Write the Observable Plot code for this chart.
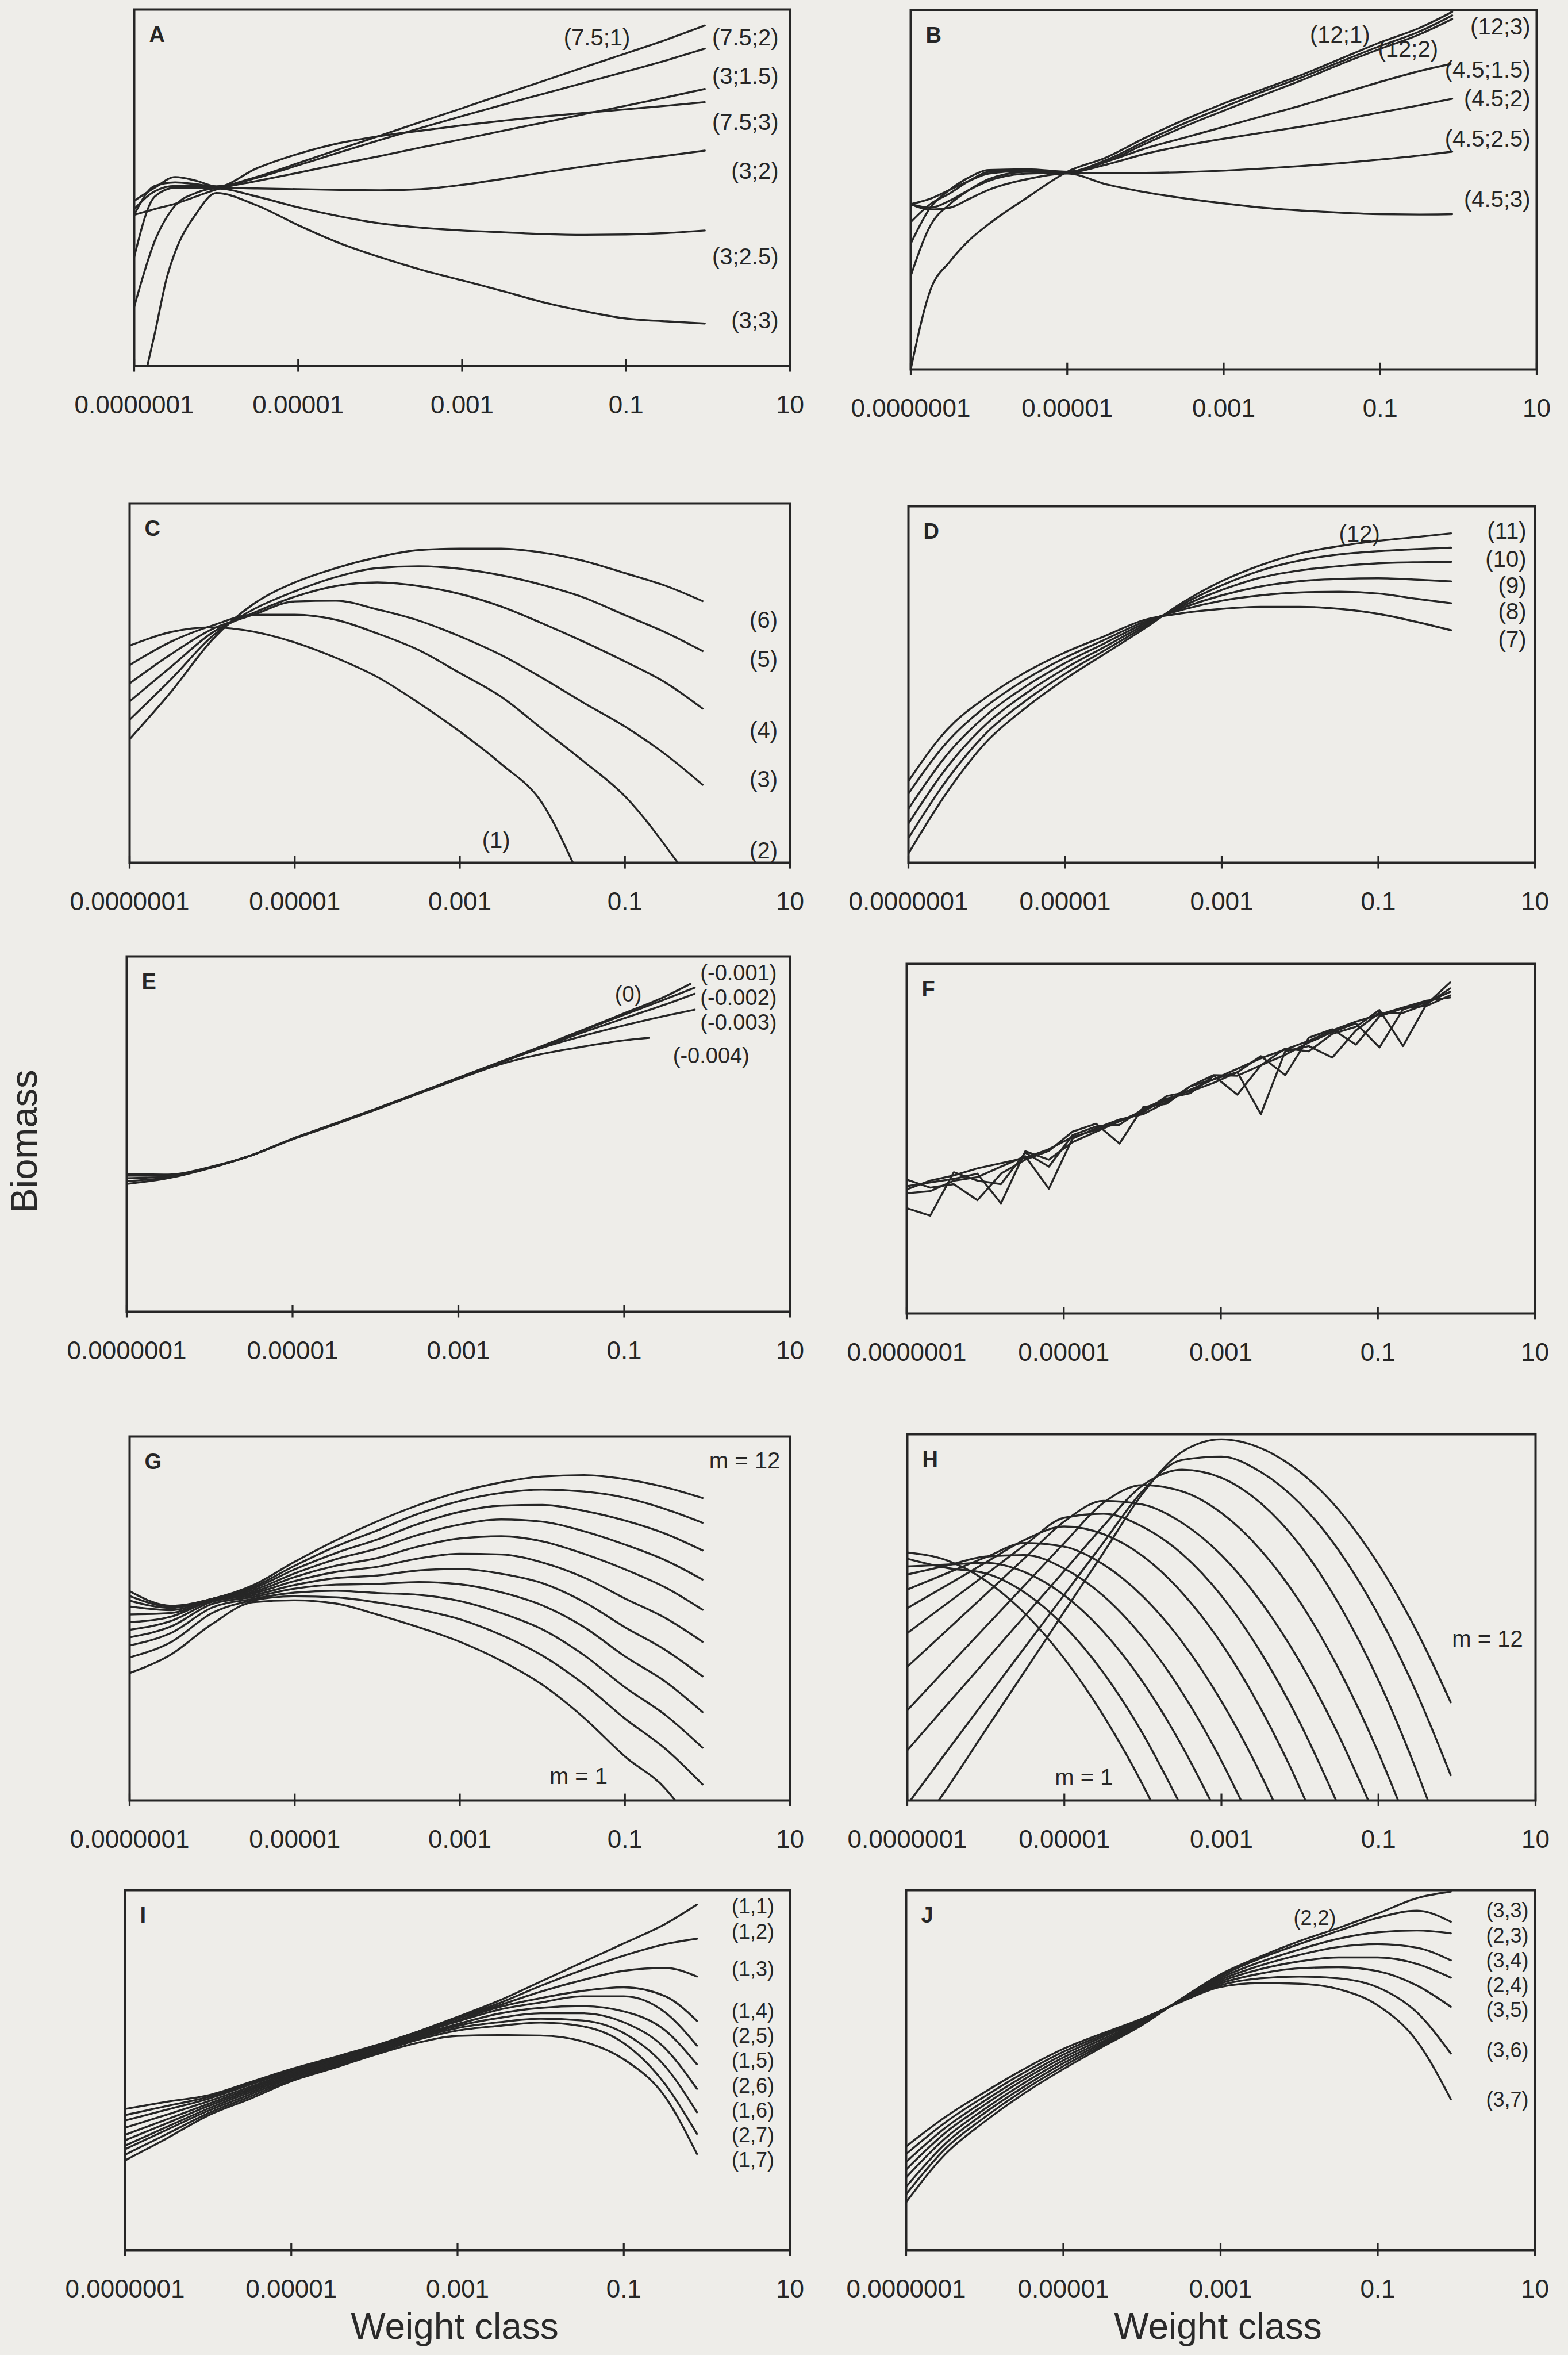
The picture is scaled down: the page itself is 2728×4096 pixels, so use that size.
<!DOCTYPE html>
<html><head><meta charset="utf-8">
<script src="https://cdn.jsdelivr.net/npm/d3@7"></script>
<script src="https://cdn.jsdelivr.net/npm/@observablehq/plot@0.6"></script>
<style>
html,body{margin:0;padding:0;background:#eeede9;}
#fig{position:relative;width:2728px;height:4096px;overflow:hidden;font-family:"Liberation Sans",Arial,Helvetica,sans-serif;color:#2a2a2a;}
.panel{position:absolute;}
.axt{position:absolute;font-size:64px;line-height:1;white-space:nowrap;}
</style></head><body><div id="fig"></div>
<script>
// ---------- axis ticks ----------
const tickValues = [1e-7, 1e-5, 1e-3, 0.1, 10];
const tickLabels = ["0.0000001", "0.00001", "0.001", "0.1", "10"];
function zip(grid, ys) { return grid.map((d, i) => [d, ys[i]]); }

// ---------- data: points are [log10(weight class), biomass (panel units 0-100)] ----------
const A_series = [
 {name:"(7.5;1)", pts:[[-7,46.3],[-6.75,50],[-6.5,53],[-6.25,52],[-6,50.4],[-5.5,53.1],[-5,56.9],[-4.5,60.8],[-4,64.6],[-3.5,68.5],[-3,72.3],[-2.5,76.2],[-2,80],[-1.5,83.9],[-1,87.7],[-0.5,91.6],[-0.04,95.5]]},
 {name:"(7.5;2)", pts:[[-7,42.4],[-6.75,50.5],[-6.5,51.5],[-6.25,51],[-6,50.3],[-5.5,52.8],[-5,56.3],[-4.5,59.9],[-4,63.4],[-3.5,66.8],[-3,70.1],[-2.5,73.3],[-2,76.4],[-1.5,79.5],[-1,82.6],[-0.5,85.8],[-0.04,89]]},
 {name:"(7.5;3)", pts:[[-7,44],[-6.75,49],[-6.5,50.5],[-6.25,50.5],[-6,50.2],[-5.5,55.5],[-5,59.5],[-4.5,62.5],[-4,64.5],[-3.5,66],[-3,67.5],[-2.5,68.8],[-2,70],[-1.5,71],[-1,72],[-0.5,73],[-0.04,74]]},
 {name:"(3;1.5)", pts:[[-7,42.4],[-6.75,44],[-6.5,45.5],[-6.25,47.5],[-6,49.5],[-5.5,51.9],[-5,54.2],[-4.5,56.6],[-4,58.9],[-3.5,61.3],[-3,63.6],[-2.5,66],[-2,68.3],[-1.5,70.7],[-1,73],[-0.5,75.4],[-0.04,77.7]]},
 {name:"(3;2)", pts:[[-7,30.6],[-6.75,47.5],[-6.5,50],[-6.25,50],[-6,50],[-5.5,49.8],[-5,49.6],[-4.5,49.4],[-4,49.3],[-3.5,49.6],[-3,50.8],[-2.5,52.5],[-2,54.3],[-1.5,56],[-1,57.6],[-0.5,59],[-0.04,60.4]]},
 {name:"(3;2.5)", pts:[[-7,16.6],[-6.75,35],[-6.5,45],[-6.25,48.5],[-6,49.8],[-5.5,47.5],[-5,44.5],[-4.5,42],[-4,40],[-3.5,38.8],[-3,38],[-2.5,37.5],[-2,37],[-1.5,36.8],[-1,36.9],[-0.5,37.3],[-0.04,38]]},
 {name:"(3;3)", pts:[[-6.84,0],[-6.75,9],[-6.6,25],[-6.5,32],[-6.25,42.5],[-6,48.5],[-5.5,45],[-5,39.5],[-4.5,34.5],[-4,30.5],[-3.5,27],[-3,24],[-2.5,21],[-2,17.8],[-1.5,15.3],[-1,13.3],[-0.5,12.5],[-0.04,11.9]]}
];
const A_labels = [["(7.5;1)",-0.95,92],["(7.5;2)",0.86,92],["(3;1.5)",0.86,81.1],["(7.5;3)",0.86,68.2],["(3;2)",0.86,54.5],["(3;2.5)",0.86,30.6],["(3;3)",0.86,12.7]];

const B_series = [
 {name:"(12;1)", pts:[[-7,0],[-6.75,22],[-6.5,30],[-6.25,36],[-6,40.5],[-5.5,48],[-5,55],[-4.5,59],[-4,64.5],[-3.5,69.5],[-3,74],[-2.5,78],[-2,82],[-1.5,86.5],[-1,91],[-0.5,95],[-0.08,99.5]]},
 {name:"(12;2)", pts:[[-7,26],[-6.75,40],[-6.5,46],[-6.25,50],[-6,53],[-5.5,55],[-5,55],[-4.5,58.3],[-4,63.5],[-3.5,68.5],[-3,73],[-2.5,77.3],[-2,81.3],[-1.5,85.7],[-1,90],[-0.5,94],[-0.08,98.5]]},
 {name:"(12;3)", pts:[[-7,35],[-6.75,45],[-6.5,50],[-6.25,53.5],[-6,55.5],[-5.5,55.7],[-5,55],[-4.5,57.8],[-4,62.8],[-3.5,67.6],[-3,72],[-2.5,76.3],[-2,80.5],[-1.5,85],[-1,89.2],[-0.5,93.2],[-0.08,97.5]]},
 {name:"(4.5;1.5)", pts:[[-7,41],[-6.75,46],[-6.5,49],[-6.25,52.5],[-6,55],[-5.5,55.5],[-5,55],[-4.5,57.8],[-4,61.5],[-3.5,64.5],[-3,67.5],[-2.5,70.5],[-2,73.5],[-1.5,76.8],[-1,80],[-0.5,83],[-0.1,85]]},
 {name:"(4.5;2)", pts:[[-7,46],[-6.75,47.5],[-6.5,50],[-6.25,52.5],[-6,54.5],[-5.5,55.3],[-5,54.8],[-4.5,57],[-4,60],[-3.5,62.3],[-3,64.2],[-2.5,65.9],[-2,67.6],[-1.5,69.5],[-1,71.5],[-0.5,73.5],[-0.08,75.3]]},
 {name:"(4.5;2.5)", pts:[[-7,46],[-6.75,45],[-6.5,47],[-6.25,50],[-6,52.5],[-5.5,54.5],[-5,54.7],[-4.5,54.7],[-4,54.7],[-3.5,54.9],[-3,55.3],[-2.5,55.9],[-2,56.6],[-1.5,57.4],[-1,58.4],[-0.5,59.5],[-0.08,60.6]]},
 {name:"(4.5;3)", pts:[[-7,46],[-6.75,44.5],[-6.5,45],[-6.25,47.5],[-6,50],[-5.5,53],[-5,54.5],[-4.5,51.5],[-4,49.3],[-3.5,47.6],[-3,46.2],[-2.5,45],[-2,44.2],[-1.5,43.6],[-1,43.2],[-0.5,43.1],[-0.08,43.2]]}
];
const B_labels = [["(12;1)",-1.13,93],["(12;2)",-0.26,89],["(12;3)",0.92,95.3],["(4.5;1.5)",0.92,83.3],["(4.5;2)",0.92,75.2],["(4.5;2.5)",0.92,64],["(4.5;3)",0.92,47.3]];

const C_series = [
 {name:"(1)", pts:[[-7,60.4],[-6.5,64.2],[-6,65.5],[-5.5,64.3],[-5,61.3],[-4.5,57],[-4,51.7],[-3.5,44.5],[-3,36.5],[-2.5,27.5],[-2,16.5],[-1.63,0]]},
 {name:"(2)", pts:[[-7,55],[-6.5,61.5],[-6,66],[-5.5,69],[-5,69],[-4.5,67.6],[-4,63.8],[-3.5,59.2],[-3,52.8],[-2.5,46.2],[-2,37.2],[-1.5,28.2],[-1,18.5],[-0.36,0]]},
 {name:"(3)", pts:[[-7,49.9],[-6.5,58],[-6,65],[-5.5,69],[-5,72.7],[-4.5,72.9],[-4,70.5],[-3.5,67.4],[-3,63],[-2.5,57.8],[-2,51.4],[-1.5,44.5],[-1,37.9],[-0.5,30],[-0.06,21.7]]},
 {name:"(4)", pts:[[-7,44.9],[-6.5,54.5],[-6,64],[-5.5,69.5],[-5,74],[-4.5,77],[-4,78],[-3.5,77],[-3,74.8],[-2.5,71.3],[-2,66.6],[-1.5,61.5],[-1,56],[-0.5,50],[-0.06,42.9]]},
 {name:"(5)", pts:[[-7,39.8],[-6.5,51],[-6,63],[-5.5,70.5],[-5,75.5],[-4.5,79.5],[-4,82],[-3.5,82.5],[-3,81.8],[-2.5,80],[-2,77.3],[-1.5,73.8],[-1,68.9],[-0.5,64],[-0.06,58.9]]},
 {name:"(6)", pts:[[-7,34.4],[-6.5,47.5],[-6,62],[-5.5,72],[-5,78],[-4.5,82],[-4,85],[-3.5,87],[-3,87.4],[-2.5,87.4],[-2,86.3],[-1.5,84],[-1,80.6],[-0.5,77],[-0.06,72.8]]}
];
const C_labels = [["(1)",-2.39,6.1],["(2)",0.85,3.3],["(3)",0.85,23.1],["(4)",0.85,36.7],["(5)",0.85,56.5],["(6)",0.85,67.4]];

const D_grid = [-7,-6.5,-6,-5.5,-5,-4.5,-4,-3.5,-3,-2.5,-2,-1.5,-1,-0.5,-0.07];
const D_series = [
 {name:"(7)",  pts: zip(D_grid, [22.9,37.5,46.5,53.5,59,63.5,68,70,71.2,71.8,71.8,71.2,69.8,67.5,65.2])},
 {name:"(8)",  pts: zip(D_grid, [19.4,34,44,51.5,57.5,62.5,67.5,71,73.5,75,75.8,76,75.5,74,72.8])},
 {name:"(9)",  pts: zip(D_grid, [15.1,30.5,41.5,49.5,56,61.5,67,71.5,75,77.5,79,79.6,79.8,79.4,78.9])},
 {name:"(10)", pts: zip(D_grid, [11,27,39,47.5,54.5,60.5,66.5,72,76.5,80,82,83.2,84,84.3,84.4])},
 {name:"(11)", pts: zip(D_grid, [6.9,23.5,36.5,45.5,53,59.5,66,72.5,77.8,82,84.8,86.5,87.4,88,88.4])},
 {name:"(12)", pts: zip(D_grid, [2.6,20,34,43.5,51.5,58.5,65.5,73,79,83.5,86.8,88.8,90.3,91.4,92.4])}
];
const D_labels = [["(12)",-0.98,92.2],["(11)",0.89,93],["(10)",0.89,85.1],["(9)",0.89,77.7],["(8)",0.89,70.3],["(7)",0.89,62.4]];

const E_series = [
 {name:"(0)", pts:[[-7,36],[-6.5,37.6],[-6,40.4],[-5.5,44],[-5,48.7],[-4.5,52.9],[-4,57.1],[-3.5,61.5],[-3,65.9],[-2.5,70.3],[-2,74.7],[-1.5,79.3],[-1,84],[-0.5,88.8],[-0.2,92.3]]},
 {name:"(-0.001)", pts:[[-7,36.8],[-6.5,37.8],[-6,40.5],[-5.5,44],[-5,48.7],[-4.5,52.8],[-4,57],[-3.5,61.4],[-3,65.8],[-2.5,70.2],[-2,74.6],[-1.5,79.1],[-1,83.6],[-0.5,88],[-0.15,91.2]]},
 {name:"(-0.002)", pts:[[-7,37.6],[-6.5,38],[-6,40.5],[-5.5,44],[-5,48.6],[-4.5,52.7],[-4,57],[-3.5,61.3],[-3,65.7],[-2.5,70.1],[-2,74.4],[-1.5,78.6],[-1,82.6],[-0.5,86.5],[-0.15,89.5]]},
 {name:"(-0.003)", pts:[[-7,38.3],[-6.5,38.3],[-6,40.6],[-5.5,44],[-5,48.6],[-4.5,52.7],[-4,56.9],[-3.5,61.3],[-3,65.6],[-2.5,70],[-2,74.2],[-1.5,77.6],[-1,80.6],[-0.5,83.3],[-0.15,85]]},
 {name:"(-0.004)", pts:[[-7,38.8],[-6.5,38.6],[-6,40.7],[-5.5,44],[-5,48.5],[-4.5,52.6],[-4,56.8],[-3.5,61.2],[-3,65.5],[-2.5,69.6],[-2,72.5],[-1.5,74.6],[-1,76.4],[-0.7,77.1]]}
];
const E_labels = [["(0)",-0.79,89.2],["(-0.001)",0.84,95.2],["(-0.002)",0.84,88.3],["(-0.003)",0.84,81.4],["(-0.004)",0.51,72]];

// weight classes doubling from 1e-7
const F_grid = [-7,-6.7,-6.4,-6.1,-5.8,-5.49,-5.19,-4.89,-4.59,-4.29,-3.99,-3.69,-3.39,-3.09,-2.79,-2.49,-2.18,-1.88,-1.58,-1.28,-0.98,-0.68,-0.38,-0.08];
const F_series = [
 {name:"s1", pts: zip(F_grid, [30.1,28,40.4,38,37,46,42,51,53.5,54,58.5,61.5,63,68,62.6,71,75.8,75,80,82,86.8,76.5,88.5,93])},
 {name:"s2", pts: zip(F_grid, [38.3,36,37,32.4,40,44,46.5,52,54.3,48.6,59,60,65,67,69,73.6,68.2,78.9,81.3,76.9,85,87.3,88,91])},
 {name:"s3", pts: zip(F_grid, [36.4,37.5,38.5,40,31.5,46.4,44,49,52,55,57.5,62.2,63.5,66,69,57,75,76.5,73.2,81,86,86,88.5,94.7])},
 {name:"s4", pts: zip(F_grid, [34.4,35,38,39,42,45,35.7,50,53,55.5,57,60.5,65,68.2,68,71,74,77.5,80.5,83,76.1,87,89,92])},
 {name:"s5", pts: zip(F_grid, [35.5,38,39.5,41.5,43,44.5,47,50.5,52.5,55,58,61,64,67,70,73,75.5,78,81,83.5,85.5,87.5,89.5,90.4])}
];
const F_labels = [];

const G_grid = [-7,-6.5,-6,-5.5,-5,-4.5,-4,-3.5,-3,-2.5,-2,-1.5,-1,-0.5,-0.06];
const G_series = [
 {name:"g1",  pts: zip([-7,-6.5,-6,-5.5,-5,-4.5,-4,-3.5,-3,-2.5,-2,-1.5,-1,-0.5,-0.39], [35,40.1,48.5,54.5,55,54.1,51.1,47.6,43.6,38.4,31.8,22.8,12.1,3,0])},
 {name:"g2",  pts: zip(G_grid, [39.3,43.5,51.5,55,56.1,55.8,54.4,52.5,49.8,45.5,39.8,32,22.5,14,4.4])},
 {name:"g3",  pts: zip(G_grid, [42.6,46,53,55.4,57.1,57.6,57,56.5,54.8,51.5,47,40,31.1,23.3,14.5])},
 {name:"g4",  pts: zip(G_grid, [44.8,47.8,54,55.9,58.2,59.3,59.5,60,59.4,57.2,53.6,47.7,39.6,32.5,24.3])},
 {name:"g5",  pts: zip(G_grid, [46.9,49.3,54.6,56.4,59.2,61.1,61.8,63.2,63.6,62.3,59.7,54.6,47.6,41.2,34.1])},
 {name:"g6",  pts: zip(G_grid, [49,50.5,55,56.9,60.3,62.8,64.2,66.5,67.8,67.6,65.4,61.3,55.5,50,43.6])},
 {name:"g7",  pts: zip(G_grid, [51.1,51.5,55.2,57.3,61.4,64.5,66.6,69.8,72,72.6,71.2,67.8,63.5,58.4,52.4])},
 {name:"g8",  pts: zip(G_grid, [53.3,52.3,55.3,57.8,62.4,66.3,69.2,73,75.8,77.2,76.6,74,70.3,65.9,60.7])},
 {name:"g9",  pts: zip(G_grid, [54.9,52.9,55.4,58.3,63.5,68,71.7,76,79.3,81,81.2,79.6,76.9,73.2,68.7])},
 {name:"g10", pts: zip(G_grid, [56.2,53.3,55.4,58.7,64.5,69.8,74.2,78.8,82.3,84.5,85.4,84.9,83.2,80,76.3])},
 {name:"g12", pts: zip(G_grid, [57.5,53.5,55.4,59.2,65.6,71.5,76.7,81.2,84.8,87.4,89,89.4,88.3,86,83.1])}
];
const G_labels = [["m = 12",0.88,93.2],["m = 1",-1.21,6.5]];

const H_series = [
 {name:"h1",  pts:[[-7,67.7],[-6.5,65.6],[-6,60],[-5.5,51],[-5,38.7],[-4.5,23.1],[-4,4.2],[-3.9,0]]},
 {name:"h2",  pts:[[-7,66],[-6.5,63.5],[-6,62],[-5.5,56.7],[-5,47.6],[-4.5,34.8],[-4,18.2],[-3.55,0]]},
 {name:"h3",  pts:[[-7,63.9],[-6.5,64.4],[-6,64.9],[-5.5,62.3],[-5,56],[-4.5,46],[-4,32.3],[-3.5,14.8],[-3.14,0]]},
 {name:"h4",  pts:[[-7,61.7],[-6.5,64.1],[-6,66.6],[-5.5,67],[-5,63.3],[-4.5,55.8],[-4,44.5],[-3.5,29.5],[-3,10.8],[-2.75,0]]},
 {name:"h5",  pts:[[-7,57.6],[-6.5,62],[-6,66.4],[-5.5,70.3],[-5,69.3],[-4.5,64.4],[-4,55.7],[-3.5,43.3],[-3,27.1],[-2.5,7.2],[-2.34,0]]},
 {name:"h6",  pts:[[-7,52.5],[-6.5,58.7],[-6,65],[-5.5,71.2],[-5,74.8],[-4.5,72.7],[-4,66.7],[-3.5,56.7],[-3,42.9],[-2.5,25.1],[-2,3.4],[-1.93,0]]},
 {name:"h7",  pts:[[-7,45.7],[-6.5,53.7],[-6,61.7],[-5.5,69.8],[-5,77.2],[-4.5,78.3],[-4,74.7],[-3.5,67.3],[-3,55.9],[-2.5,40.5],[-2,21.2],[-1.54,0]]},
 {name:"h8",  pts:[[-7,36.5],[-6.5,46.4],[-6,56.3],[-5.5,66.3],[-5,76.2],[-4.5,81.8],[-4,80.8],[-3.5,75.8],[-3,67],[-2.5,54.3],[-2,37.8],[-1.5,17.5],[-1.13,0]]},
 {name:"h9",  pts:[[-7,24.6],[-6.5,36.1],[-6,47.5],[-5.5,58.9],[-5,70.3],[-4.5,81.3],[-4,86.1],[-3.5,84.4],[-3,78.5],[-2.5,68.4],[-2,54.2],[-1.5,35.7],[-1,13],[-0.75,0]]},
 {name:"h10", pts:[[-7,13.7],[-6.5,26],[-6,38.2],[-5.5,50.5],[-5,62.7],[-4.5,75],[-4,86.1],[-3.5,90.3],[-3,88.1],[-2.5,81.2],[-2,69.7],[-1.5,53.5],[-1,32.8],[-0.5,7.3],[-0.37,0]]},
 {name:"h11", pts:[[-6.96,0],[-6.5,13.3],[-6,27.6],[-5.5,41.9],[-5,56.2],[-4.5,70.5],[-4,84.6],[-3.5,93],[-3,93.9],[-2.5,89.7],[-2,81.1],[-1.5,68.1],[-1,50.6],[-0.5,28.7],[-0.08,6.9]]},
 {name:"h12", pts:[[-6.6,0],[-6.5,3.1],[-6,19.3],[-5.5,35.4],[-5,51.6],[-4.5,67.7],[-4,83.9],[-3.5,95.2],[-3,98.6],[-2.5,96.2],[-2,89.7],[-1.5,79.2],[-1,64.5],[-0.5,45.7],[-0.08,26.8]]}
];
const H_labels = [["m = 12",0.84,44],["m = 1",-4.38,6.1]];

const I_grid = [-7,-6.5,-6,-5.5,-5,-4.5,-4,-3.5,-3,-2.5,-2,-1.5,-1,-0.5,-0.12];
const I_series = [
 {name:"(1,1)", pts: zip(I_grid, [36,39,42,45.9,49.8,53.1,56.4,60.5,64.8,69.3,74.6,79.9,85.2,90.6,96])},
 {name:"(1,2)", pts: zip(I_grid, [37.5,40,42.5,46.2,50,53.3,56.6,60.5,64.6,68.6,73.4,77.8,81.8,85,86.5])},
 {name:"(1,3)", pts: zip(I_grid, [39.2,41.2,43,46.6,50.3,53.5,56.8,60.5,64.3,68,71.8,75,77.6,78.4,76])},
 {name:"(1,4)", pts: zip(I_grid, [34,37.6,41.3,45.3,49.4,52.8,56.1,60.2,63.8,67.5,70,72,73,70.5,63.7])},
 {name:"(2,5)", pts: zip(I_grid, [32,36.3,40.6,44.8,49,52.4,55.8,59.9,63.5,66.8,68.8,70.5,70.5,66,56.8])},
 {name:"(1,5)", pts: zip(I_grid, [30.5,35.2,40,44.3,48.6,52.1,55.5,59.5,62.8,65.7,67.3,67.8,66.3,61,51.6])},
 {name:"(2,6)", pts: zip(I_grid, [29,34.2,39.3,43.8,48.2,51.7,55.2,59.1,62.3,64.5,65.8,65.8,63.3,56,44.8])},
 {name:"(1,6)", pts: zip(I_grid, [28,33.4,38.7,43.2,47.8,51.3,54.9,58.7,61.7,63.3,64.3,63.8,60.3,51,38.3])},
 {name:"(2,7)", pts: zip(I_grid, [26.5,32.2,38,42.6,47.3,50.9,54.5,58.3,61,62.3,63.2,62.2,57.5,46,32.3])},
 {name:"(1,7)", pts: zip(I_grid, [24.9,31,37.4,42,46.9,50.5,54.2,57.5,59.5,59.7,59.6,58,53,42.5,26.7])}
];
const I_labels = [["(1,1)",0.81,95.3],["(1,2)",0.81,88.4],["(1,3)",0.81,77.9],["(1,4)",0.81,66.3],["(2,5)",0.81,59.4],["(1,5)",0.81,52.5],["(2,6)",0.81,45.6],["(1,6)",0.81,38.7],["(2,7)",0.81,31.8],["(1,7)",0.81,24.9]];

const J_grid = [-7,-6.5,-6,-5.5,-5,-4.5,-4,-3.5,-3,-2.5,-2,-1.5,-1,-0.5,-0.07];
const J_series = [
 {name:"(2,2)", pts: zip(J_grid, [13.3,26.7,35.7,43.5,50.3,56.5,62.5,69.8,76.6,81.5,85.8,89.5,93.5,97.8,99.6])},
 {name:"(3,3)", pts: zip(J_grid, [15.5,28.2,36.9,44.5,51.1,57,62.8,69.7,76.1,81,85,88.7,92.3,94.3,91.2])},
 {name:"(2,3)", pts: zip(J_grid, [17.6,29.6,38.1,45.4,51.9,57.5,63.1,69.6,75.6,80,83.5,86.5,88.3,88.8,88])},
 {name:"(3,4)", pts: zip(J_grid, [20.2,31.1,39.2,46.4,52.7,58,63.4,69.5,75.1,79,82,84.2,85,84,80.5])},
 {name:"(2,4)", pts: zip(J_grid, [22.4,32.6,40.4,47.4,53.5,58.6,63.6,69.4,74.6,78,80.2,81.3,81.3,79.5,75.7])},
 {name:"(3,5)", pts: zip(J_grid, [24.5,34,41.5,48.3,54.3,59.2,63.9,69.3,74.1,76.8,78.3,78.6,77.5,73.5,67.6])},
 {name:"(3,6)", pts: zip(J_grid, [26.7,35.5,42.7,49.3,55.1,59.7,64.1,69.1,73.6,75.5,76,75.5,73,66,54.6])},
 {name:"(3,7)", pts: zip(J_grid, [28.8,37,43.9,50.3,55.9,60.2,64.3,69,73.1,74.2,74,72.5,68,58,41.9])}
];
const J_labels = [["(2,2)",-1.53,92.1],["(3,3)",0.92,94.2],["(2,3)",0.92,87.3],["(3,4)",0.92,80.4],["(2,4)",0.92,73.5],["(3,5)",0.92,66.6],["(3,6)",0.92,55.5],["(3,7)",0.92,41.7]];

// ---------- layout (reference pixel boxes: left, right, top, bottom of each frame) ----------
const S = 0.844;
const ink = "#262626";
const FONT = '"Liberation Sans", Arial, Helvetica, sans-serif';
const panels = [
 {id:"A", box:[276,1628,19,753],    series:A_series, labels:A_labels, fs:40},
 {id:"B", box:[1877,3167,20,761],   series:B_series, labels:B_labels, fs:40},
 {id:"C", box:[266,1628,1037,1777], series:C_series, labels:C_labels, fs:40},
 {id:"D", box:[1872,3164,1043,1777],series:D_series, labels:D_labels, fs:40},
 {id:"E", box:[261,1628,1970,2703], series:E_series, labels:E_labels, fs:38},
 {id:"F", box:[1868,3163,1986,2706],series:F_series, labels:F_labels, fs:40, curve:"linear"},
 {id:"G", box:[266,1628,2960,3710], series:G_series, labels:G_labels, fs:40},
 {id:"H", box:[1870,3165,2955,3710],series:H_series, labels:H_labels, fs:40},
 {id:"I", box:[257,1628,3895,4636], series:I_series, labels:I_labels, fs:36},
 {id:"J", box:[1867,3163,3895,4636],series:J_series, labels:J_labels, fs:36}
];

const fig = document.getElementById("fig");
const mL = 115, mR = 60, mT = 10, mB = 100;

for (const p of panels) {
  const fl = Math.round(p.box[0]*S), fr = Math.round(p.box[1]*S);
  const ft = Math.round(p.box[2]*S), fb = Math.round(p.box[3]*S);
  const W = fr - fl, H = fb - ft;
  const rows = [];
  for (const s of p.series) for (const [d, v] of s.pts) rows.push({name: s.name, x: Math.pow(10, d), y: v});
  const chart = Plot.plot({
    width: W + mL + mR, height: H + mT + mB,
    marginLeft: mL, marginRight: mR, marginTop: mT, marginBottom: mB,
    style: {background: "transparent", fontFamily: FONT, fontSize: "44px", color: ink, overflow: "visible", maxWidth: "none"},
    x: {type: "log", domain: [1e-7, 10], ticks: tickValues, tickFormat: d => tickLabels[tickValues.indexOf(d)], tickSize: 0, tickPadding: 51, label: null},
    y: {domain: [0, 100], axis: null},
    marks: [
      Plot.frame({stroke: ink, strokeWidth: 4}),
      Plot.ruleX(tickValues, {y1: -1.7, y2: 1.8, stroke: ink, strokeWidth: 3.2}),
      Plot.line(rows, {x: "x", y: "y", z: "name", stroke: ink, strokeWidth: 3.4, curve: p.curve || "monotone-x", clip: true, strokeLinejoin: "round"}),
      Plot.text(p.labels, {x: d => Math.pow(10, d[1]), y: d => d[2], text: d => d[0], textAnchor: "end", lineAnchor: "middle", fontSize: p.fs, fill: ink}),
      Plot.text([p.id], {frameAnchor: "top-left", text: d => d, dx: 26, dy: 56, textAnchor: "start", lineAnchor: "bottom", fontSize: 38, fontWeight: "bold", fill: ink})
    ]
  });
  const div = document.createElement("div");
  div.className = "panel";
  div.style.left = (fl - mL) + "px";
  div.style.top = (ft - mT) + "px";
  div.appendChild(chart);
  fig.appendChild(div);
}

// axis titles
const yt = document.createElement("div");
yt.className = "axt";
yt.textContent = "Biomass";
yt.style.fontSize = "65px";
yt.style.left = "41px"; yt.style.top = "1985px";
yt.style.transform = "translate(-50%,-50%) rotate(-90deg)";
fig.appendChild(yt);
for (const cx of [791, 2119]) {
  const xt = document.createElement("div");
  xt.className = "axt";
  xt.textContent = "Weight class";
  xt.style.left = cx + "px"; xt.style.top = "4014px";
  xt.style.transform = "translateX(-50%)";
  fig.appendChild(xt);
}
</script></body></html>
